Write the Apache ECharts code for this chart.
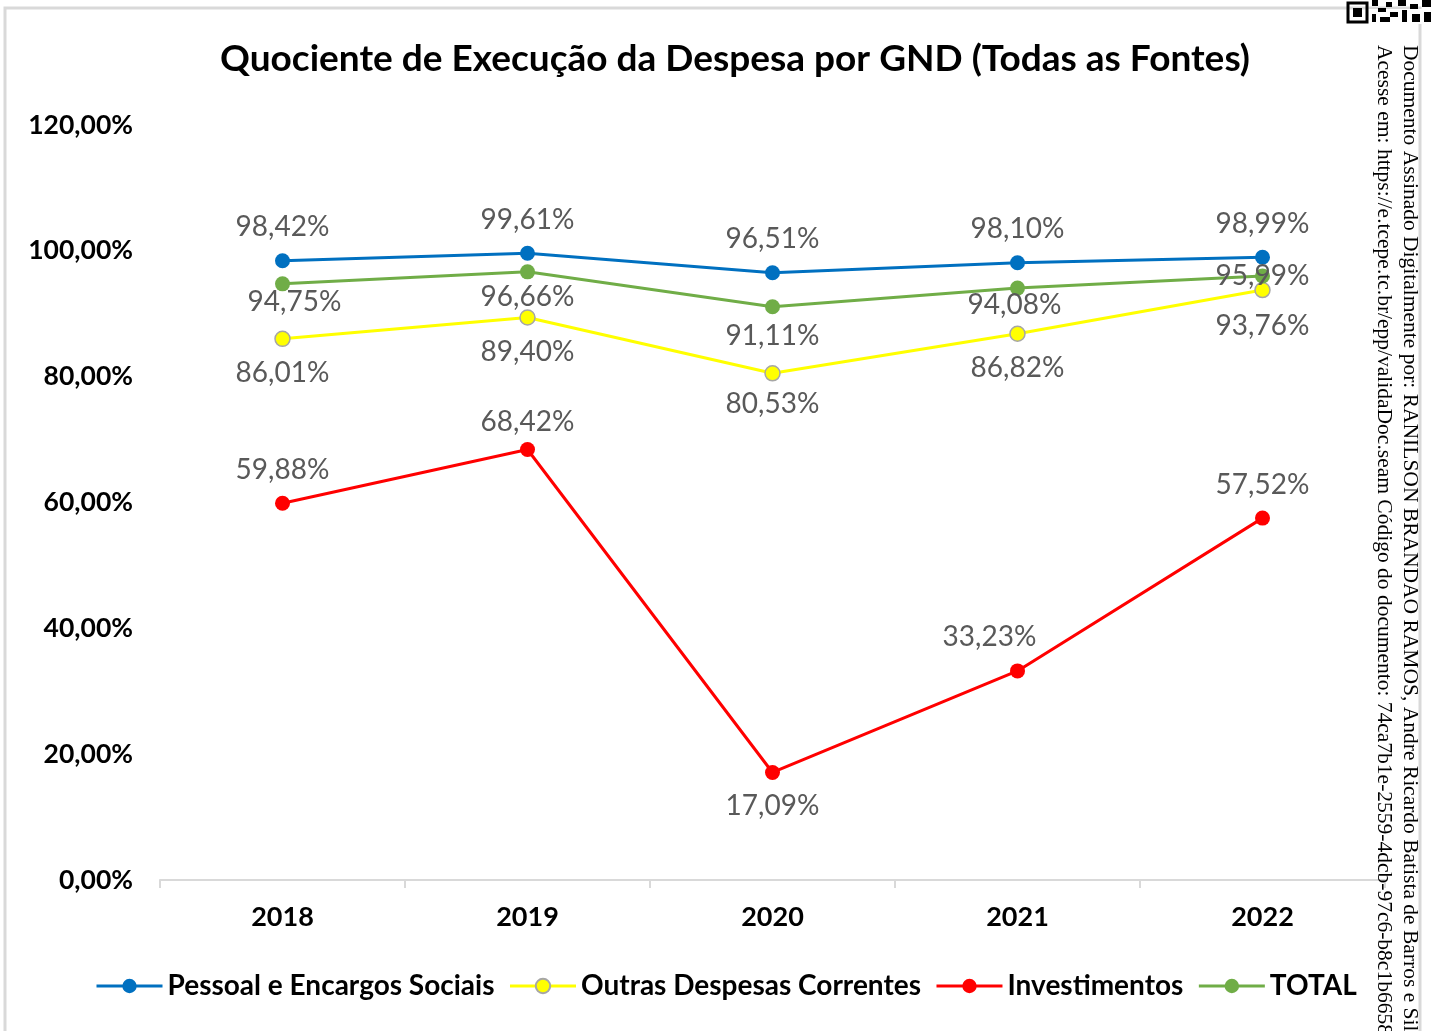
<!DOCTYPE html>
<html>
<head>
<meta charset="utf-8">
<title>Quociente de Execução da Despesa por GND</title>
<script src="https://cdn.jsdelivr.net/npm/echarts@6/dist/echarts.min.js"></script>
<style>
  html, body { margin: 0; padding: 0; background: #fff; }
  #chart { width: 1431px; height: 1031px; }
</style>
</head>
<body>
<div id="chart"></div>
<script>
// dados
const anos = ['2018', '2019', '2020', '2021', '2022']
const pessoal = [98.42, 99.61, 96.51, 98.10, 98.99]
const outras = [86.01, 89.40, 80.53, 86.82, 93.76]
const investimentos = [59.88, 68.42, 17.09, 33.23, 57.52]
const total = [94.75, 96.66, 91.11, 94.08, 95.99]
const yTicks = [0, 20, 40, 60, 80, 100, 120]

const fmt = (v) => v.toFixed(2).replace('.', ',') + '%'
const FONT = 'Lato, "Open Sans", sans-serif'

const labelBase = {
  show: true,
  fontFamily: FONT,
  fontSize: 28,
  color: '#595959',
  formatter: (p) => fmt(p.value)
}

// posição de cada rótulo (acima/abaixo) como no original
const withLabels = (values, pos, extra) => values.map((v, i) => {
  const item = { value: v }
  const lab = Object.assign({ position: pos[i], distance: 12 }, (extra && extra[i]) || {})
  item.label = lab
  return item
})

const chart = echarts.init(document.getElementById('chart'))

const mk = (name, color, data, border) => ({
  name: name,
  type: 'line',
  data: data,
  symbol: 'circle',
  symbolSize: 15,
  lineStyle: { color: color, width: 3 },
  itemStyle: { color: color, borderColor: border || color, borderWidth: border ? 1.5 : 0 },
  label: labelBase,
  emphasis: { disabled: true }
})

chart.setOption({
  animation: false,
  title: {
    text: 'Quociente de Execução da Despesa por GND (Todas as Fontes)',
    left: 730,
    textAlign: 'center',
    top: 36,
    textStyle: { fontFamily: FONT, fontSize: 37, fontWeight: 'bold', color: '#000' }
  },
  grid: { left: 160, right: 46, top: 125, bottom: 151 },
  legend: {
    bottom: 26,
    left: 90,
    itemWidth: 66,
    itemHeight: 18,
    itemGap: 14,
    lineStyle: { width: 3 },
    textStyle: { fontFamily: FONT, fontSize: 28, fontWeight: 'bold', color: '#000', padding: [0, 0, 0, 0] },
    data: ['Pessoal e Encargos Sociais', 'Outras Despesas Correntes', 'Investimentos', 'TOTAL']
  },
  xAxis: {
    type: 'category',
    data: anos,
    boundaryGap: true,
    axisLine: { lineStyle: { color: '#d9d9d9', width: 2 } },
    axisTick: { show: true, length: 8, lineStyle: { color: '#d9d9d9', width: 2 } },
    axisLabel: { fontFamily: FONT, fontSize: 27, fontWeight: 'bold', color: '#000', margin: 24 }
  },
  yAxis: {
    type: 'value',
    min: yTicks[0],
    max: yTicks[yTicks.length - 1],
    interval: yTicks[1] - yTicks[0],
    axisLine: { show: false },
    axisTick: { show: false },
    splitLine: { show: false },
    axisLabel: {
      fontFamily: FONT, fontSize: 26.5, fontWeight: 'bold', color: '#000', margin: 27,
      formatter: (v) => fmt(v)
    }
  },
  series: [
    mk('Pessoal e Encargos Sociais', '#0070C0',
      withLabels(pessoal, ['top', 'top', 'top', 'top', 'top'])),
    mk('Outras Despesas Correntes', '#FFFF00',
      withLabels(outras, ['bottom', 'bottom', 'bottom', 'bottom', 'bottom'],
        [null, null, { distance: 8 }, null, { distance: 14 }]), '#a6a6a6'),
    mk('TOTAL', '#70AD47',
      withLabels(total, ['bottom', 'bottom', 'bottom', 'bottom', 'inside'],
        [{ distance: -3, offset: [12, 0] }, { distance: 4 }, { distance: 8 }, { distance: -5, offset: [-3, 0] }, null])),
    mk('Investimentos', '#FF0000',
      withLabels(investimentos, ['top', 'top', 'bottom', 'top', 'top'],
        [null, { distance: 6 }, null, { offset: [-28, 0] }, null]))
  ],
  graphic: [
    // moldura
    { type: 'rect', silent: true, z: -1, shape: { x: 5, y: 8, width: 1415, height: 1100 },
      style: { fill: 'none', stroke: '#d9d9d9', lineWidth: 3 } },
    { type: 'rect', silent: true, z: 0, shape: { x: 1368, y: 9, width: 63, height: 1022 },
      style: { fill: '#fff' } },
    { type: 'line', silent: true, z: 1, shape: { x1: 1420, y1: 24, x2: 1420, y2: 1031 },
      style: { stroke: '#d9d9d9', lineWidth: 3 } },
    // carimbo de assinatura
    { type: 'text', silent: true, z: 2, x: 1410, y: 45, rotation: -Math.PI / 2,
      style: { text: 'Documento Assinado Digitalmente por: RANILSON BRANDAO RAMOS, Andre Ricardo Batista de Barros e Silva',
        fontFamily: '"Liberation Serif", serif', fontSize: 21.5, fill: '#000', textAlign: 'left', textVerticalAlign: 'middle' } },
    { type: 'text', silent: true, z: 2, x: 1384, y: 45, rotation: -Math.PI / 2,
      style: { text: 'Acesse em: https://e.tcepe.tc.br/epp/validaDoc.seam Código do documento: 74ca7b1e-2559-4dcb-97c6-b8c1b6658c',
        fontFamily: '"Liberation Serif", serif', fontSize: 21.5, fill: '#000', textAlign: 'left', textVerticalAlign: 'middle' } },
    // QR code (recorte)
    { type: 'group', silent: true, z: 3, children: [
      { type: 'rect', shape: { x: 1348, y: 3, width: 19, height: 19 }, style: { fill: 'none', stroke: '#000', lineWidth: 3 } },
      { type: 'rect', shape: { x: 1353, y: 8, width: 9, height: 9 }, style: { fill: '#000' } },
      { type: 'rect', shape: { x: 1372, y: 0, width: 6, height: 6 }, style: { fill: '#000' } },
      { type: 'rect', shape: { x: 1378, y: 8, width: 8, height: 4 }, style: { fill: '#000' } },
      { type: 'rect', shape: { x: 1372, y: 14, width: 4, height: 8 }, style: { fill: '#000' } },
      { type: 'rect', shape: { x: 1386, y: 2, width: 6, height: 5 }, style: { fill: '#000' } },
      { type: 'rect', shape: { x: 1390, y: 12, width: 8, height: 5 }, style: { fill: '#000' } },
      { type: 'rect', shape: { x: 1380, y: 17, width: 10, height: 5 }, style: { fill: '#000' } },
      { type: 'rect', shape: { x: 1398, y: 0, width: 8, height: 6 }, style: { fill: '#000' } },
      { type: 'rect', shape: { x: 1402, y: 10, width: 5, height: 12 }, style: { fill: '#000' } },
      { type: 'rect', shape: { x: 1410, y: 4, width: 8, height: 5 }, style: { fill: '#000' } },
      { type: 'rect', shape: { x: 1412, y: 14, width: 8, height: 8 }, style: { fill: '#000' } },
      { type: 'rect', shape: { x: 1422, y: 0, width: 9, height: 7 }, style: { fill: '#000' } },
      { type: 'rect', shape: { x: 1424, y: 12, width: 7, height: 10 }, style: { fill: '#000' } }
    ] }
  ]
})
</script>
</body>
</html>
